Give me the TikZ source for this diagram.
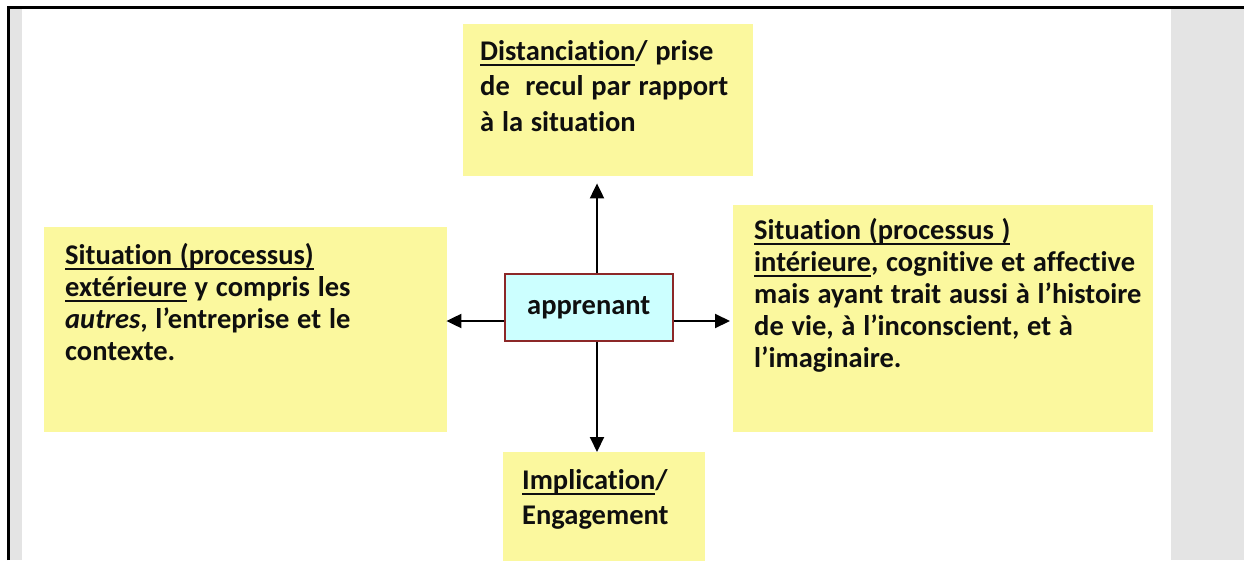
\documentclass[tikz,border=0pt]{standalone}
\usepackage{fontspec}
\setmainfont{Carlito}[Ligatures=NoCommon,WordSpace=1.2]
\usetikzlibrary{arrows.meta,calc}
\definecolor{ybox}{RGB}{251,248,158}
\definecolor{cbox}{RGB}{204,255,255}
\definecolor{cborder}{RGB}{140,40,40}
\definecolor{sidegrey}{RGB}{228,228,228}
\definecolor{txt}{RGB}{15,15,15}
\newsavebox\ulbox
\newcommand\ulw[1]{\leavevmode\sbox\ulbox{#1}\rlap{\rule[-6pt]{\wd\ulbox}{1.8pt}}\usebox\ulbox}
\newcommand\boxtext[1]{\parbox[t]{520pt}{\raggedright #1}}
\tikzset{
  yellowbox/.style={fill=ybox, draw=none, inner sep=0pt, anchor=north west},
  centerbox/.style={fill=cbox, draw=cborder, line width=1.5pt, inner sep=0pt,
    anchor=north west, font=\fontsize{28.5}{32}\selectfont\bfseries, text=txt},
  boxlabel/.style={inner sep=0pt, anchor=base west, text=txt},
  widelines/.style={font=\fontsize{28.5}{35.5}\selectfont\bfseries},
  narrowlines/.style={font=\fontsize{28.5}{32}\selectfont\bfseries},
  arr/.style={line width=2pt, -{Triangle[length=15pt,width=14pt]}},
  frameline/.style={line width=3pt}
}
\begin{document}
\begin{tikzpicture}[x=1pt,y=-1pt]
\useasboundingbox (0,0) rectangle (1244,560);
% page frame
\fill[sidegrey] (9,8) rectangle (22,560);
\fill[sidegrey] (1171,8) rectangle (1244,560);
\draw[frameline] (8,560) -- (8,7) -- (1244,7);
% boxes
\node[yellowbox, minimum width=290pt, minimum height=152pt] (top) at (463,24) {};
\node[yellowbox, minimum width=403pt, minimum height=205pt] (left) at (44,227) {};
\node[yellowbox, minimum width=420pt, minimum height=227pt] (right) at (733,205) {};
\node[yellowbox, minimum width=202pt, minimum height=110pt] (bottom) at (503,452) {};
\node[centerbox, minimum width=168pt, minimum height=67pt] (ctr) at (504,273) {apprenant};
% texts
\node[boxlabel, widelines] (toptext) at (480,60)
  {\boxtext{\ulw{Distanciation}/ prise\\de\ \ recul par rapport\\à la situation}};
\node[boxlabel, narrowlines] (lefttext) at (65,264)
  {\boxtext{\ulw{Situation (processus)}\\\ulw{extérieure} y compris les\\\textit{autres}, l’entreprise et le\\contexte.}};
\node[boxlabel, narrowlines] (righttext) at (754,239)
  {\boxtext{\ulw{Situation (processus )}\\\ulw{intérieure}, cognitive et affective\\mais ayant trait aussi à l’histoire\\de vie, à l’inconscient, et à\\l’imaginaire.}};
\node[boxlabel, widelines] (bottomtext) at (522,489)
  {\boxtext{\ulw{Implication}/\\Engagement}};
% connectors
\coordinate (vx) at (597,0);
\coordinate (hy) at (0,321);
\draw[arr] (ctr.north -| vx) -- ([yshift=-7pt]top.south -| vx);
\draw[arr] (ctr.south -| vx) -- (bottom.north -| vx);
\draw[arr] (ctr.west |- hy) -- ([xshift=-1pt]left.east |- hy);
\draw[arr] (ctr.east |- hy) -- ([xshift=-3pt]right.west |- hy);
\end{tikzpicture}
\end{document}
